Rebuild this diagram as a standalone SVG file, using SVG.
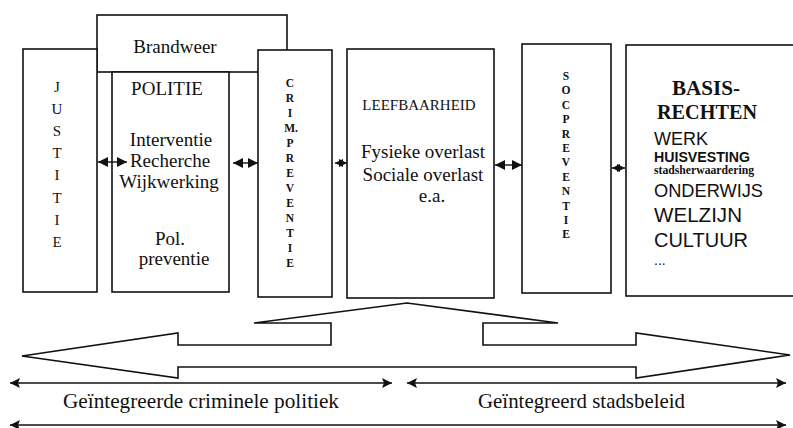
<svg xmlns="http://www.w3.org/2000/svg" width="793" height="428" viewBox="0 0 793 428">
<defs>
<style>
.box{fill:#fff;stroke:#111;stroke-width:1.6}
.t{font-family:"Liberation Serif","Times New Roman",serif;fill:#111}
.c{text-anchor:middle}
.b{font-weight:bold}
.s{font-family:"Liberation Sans",Arial,sans-serif;fill:#111}
.ln{stroke:#111;stroke-width:1.6;fill:none}
.sm{stroke:#111;stroke-width:1.4;fill:none}
.f19{font-size:19px}
.vl{font-size:11.5px;font-weight:bold}
</style>
<marker id="sh" viewBox="0 0 10 10" refX="10" refY="5" markerWidth="12" markerHeight="10" markerUnits="userSpaceOnUse" orient="auto-start-reverse"><path d="M0,0 L10,5 L0,10 Z" fill="#111"/></marker>
<marker id="xh" viewBox="0 0 10 10" refX="10" refY="5" markerWidth="8" markerHeight="9" markerUnits="userSpaceOnUse" orient="auto-start-reverse"><path d="M0,0 L10,5 L0,10 Z" fill="#111"/></marker>
<marker id="bh" viewBox="0 0 10 10" refX="10" refY="5" markerWidth="13" markerHeight="10" markerUnits="userSpaceOnUse" orient="auto-start-reverse"><path d="M0,0 L10,5 L0,10 L2,5 Z" fill="#111"/></marker>
</defs>
<rect width="793" height="428" fill="#fff"/>

<g id="brandweer">
<rect class="box" x="97" y="15" width="190" height="57"/>
<text class="t c f19" x="175" y="53">Brandweer</text>
</g>

<g id="justitie">
<rect class="box" x="23" y="49" width="74" height="243"/>
<text class="t c" font-size="15" x="57">
<tspan x="57" y="92">J</tspan><tspan x="57" y="114">U</tspan><tspan x="57" y="136">S</tspan><tspan x="57" y="158">T</tspan><tspan x="57" y="180">I</tspan><tspan x="57" y="203">T</tspan><tspan x="57" y="225">I</tspan><tspan x="57" y="247">E</tspan>
</text>
</g>

<g id="politie">
<rect class="box" x="112" y="72" width="117" height="220"/>
<text class="t c f19" x="167" y="95">POLITIE</text>
<text class="t c f19" x="171" y="146">Interventie</text>
<text class="t c f19" x="170" y="167">Recherche</text>
<text class="t c f19" x="169" y="188">Wijkwerking</text>
<text class="t c f19" x="170" y="245">Pol.</text>
<text class="t c f19" x="174" y="265">preventie</text>
</g>

<g id="crimpreventie">
<rect class="box" x="258" y="50" width="74" height="247"/>
<text class="t c vl">
<tspan x="290" y="87">C</tspan><tspan x="290" y="102">R</tspan><tspan x="290" y="117">I</tspan><tspan x="291" y="132">M.</tspan><tspan x="290" y="147">P</tspan><tspan x="290" y="162">R</tspan><tspan x="290" y="177">E</tspan><tspan x="290" y="192">V</tspan><tspan x="290" y="207">E</tspan><tspan x="290" y="222">N</tspan><tspan x="290" y="237">T</tspan><tspan x="290" y="252">I</tspan><tspan x="290" y="267">E</tspan>
</text>
</g>

<g id="leefbaarheid">
<rect class="box" x="347" y="49" width="147" height="249"/>
<text class="t c" font-size="15" x="419" y="110">LEEFBAARHEID</text>
<text class="t c f19" x="423" y="158">Fysieke overlast</text>
<text class="t c f19" x="423" y="181">Sociale overlast</text>
<text class="t c f19" x="432" y="202">e.a.</text>
</g>

<g id="socpreventie">
<rect class="box" x="522" y="44" width="89" height="249"/>
<text class="t c vl">
<tspan x="566" y="80">S</tspan><tspan x="566" y="94.4">O</tspan><tspan x="566" y="108.8">C</tspan><tspan x="566" y="123.2">P</tspan><tspan x="566" y="137.6">R</tspan><tspan x="566" y="152">E</tspan><tspan x="566" y="166.4">V</tspan><tspan x="566" y="180.8">E</tspan><tspan x="566" y="195.2">N</tspan><tspan x="566" y="209.6">T</tspan><tspan x="566" y="224">I</tspan><tspan x="566" y="238.4">E</tspan>
</text>
</g>

<g id="basisrechten">
<rect class="box" x="626" y="45" width="200" height="251"/>
<text class="t b" font-size="20" x="672" y="95" textLength="68" lengthAdjust="spacingAndGlyphs">BASIS-</text>
<text class="t b" font-size="20" x="657" y="119" textLength="100" lengthAdjust="spacingAndGlyphs">RECHTEN</text>
<text class="s" font-size="18" x="654" y="145" textLength="54" lengthAdjust="spacingAndGlyphs">WERK</text>
<text class="s b" font-size="14" x="654" y="162" textLength="96" lengthAdjust="spacingAndGlyphs">HUISVESTING</text>
<text class="t b" font-size="11.5" x="654" y="174" textLength="100" lengthAdjust="spacingAndGlyphs">stadsherwaardering</text>
<text class="s" font-size="19" x="654" y="197" textLength="109" lengthAdjust="spacingAndGlyphs">ONDERWIJS</text>
<text class="s" font-size="20" x="654" y="222" textLength="88" lengthAdjust="spacingAndGlyphs">WELZIJN</text>
<text class="s" font-size="20" x="654" y="247" textLength="94" lengthAdjust="spacingAndGlyphs">CULTUUR</text>
<text class="s" font-size="14" x="654" y="265">...</text>
</g>

<g id="integration-arrow">
<polygon class="box" points="407,303 558,323 483,323 483,345 636,345 636,333 790,355 636,378 636,367 178,367 178,378 22,356 178,333 178,345 331,345 331,323 254,323"/>
</g>

<g id="connectors">
<line class="sm" x1="98" y1="162" x2="127" y2="162" marker-start="url(#sh)" marker-end="url(#sh)"/>
<line class="sm" x1="233" y1="163" x2="258" y2="163" marker-start="url(#sh)" marker-end="url(#sh)"/>
<line class="sm" x1="335" y1="163" x2="347" y2="163" marker-start="url(#xh)" marker-end="url(#xh)"/>
<line class="sm" x1="495" y1="165" x2="522" y2="165" marker-start="url(#sh)" marker-end="url(#sh)"/>
<line class="sm" x1="612" y1="168" x2="625" y2="168" marker-start="url(#xh)" marker-end="url(#xh)"/>
<line class="ln" x1="10" y1="383" x2="392" y2="383" marker-start="url(#bh)" marker-end="url(#bh)"/>
<line class="ln" x1="407" y1="383" x2="786" y2="383" marker-start="url(#bh)" marker-end="url(#bh)"/>
<line class="ln" x1="10" y1="425" x2="786" y2="425" marker-start="url(#bh)" marker-end="url(#bh)"/>
</g>

<g id="labels">
<text class="t" font-size="21" x="63" y="408" textLength="276" lengthAdjust="spacingAndGlyphs">Geïntegreerde criminele politiek</text>
<text class="t" font-size="21" x="478" y="408" textLength="207" lengthAdjust="spacingAndGlyphs">Geïntegreerd stadsbeleid</text>
</g>
</svg>
